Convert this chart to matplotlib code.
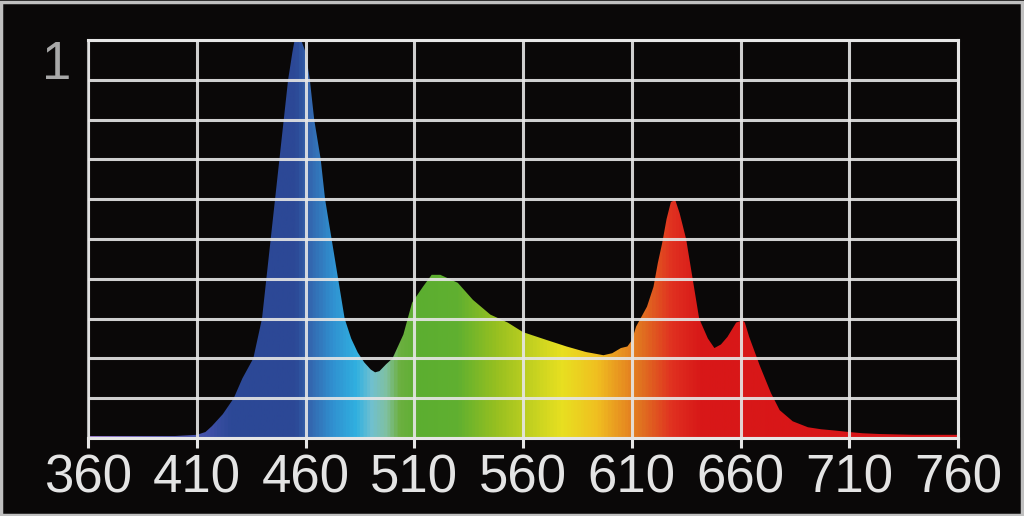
import matplotlib
matplotlib.use("Agg")
import matplotlib.pyplot as plt
import numpy as np
from matplotlib.colors import LinearSegmentedColormap
from matplotlib.patches import Rectangle

# spectrum (wavelength nm, relative intensity)
wavelength = [360, 380, 400, 410, 414, 417, 422, 427, 431, 436, 440, 442, 444, 446,
              448, 450, 452, 454, 455, 458, 460, 462, 464, 467, 469, 472, 475, 478,
              481, 484, 487, 490, 492, 494, 497, 500, 505, 509, 514, 518, 522, 526,
              530, 537, 545, 553, 560, 571, 580, 589, 597, 601, 605, 608, 610, 612,
              617, 620, 622, 624, 626, 628, 630, 632, 635, 638, 641, 645, 648, 651,
              654, 658, 661, 662, 664, 669, 674, 678, 684, 691, 697, 703, 710, 716,
              724, 740, 760]
intensity = [0.005, 0.005, 0.005, 0.008, 0.015, 0.03, 0.06, 0.10, 0.15, 0.20, 0.30, 0.40,
             0.50, 0.60, 0.70, 0.80, 0.90, 0.97, 1.0, 1.0, 0.97, 0.90, 0.80, 0.70, 0.60,
             0.50, 0.40, 0.30, 0.25, 0.215, 0.19, 0.172, 0.165, 0.168, 0.185, 0.20, 0.26,
             0.34, 0.38, 0.41, 0.41, 0.40, 0.39, 0.347, 0.31, 0.29, 0.266, 0.246, 0.23,
             0.216, 0.208, 0.213, 0.226, 0.23, 0.245, 0.28, 0.33, 0.38, 0.44, 0.49, 0.55,
             0.593, 0.598, 0.565, 0.50, 0.40, 0.30, 0.25, 0.226, 0.235, 0.254, 0.29, 0.296,
             0.29, 0.254, 0.18, 0.113, 0.07, 0.042, 0.027, 0.022, 0.019, 0.015, 0.012,
             0.01, 0.008, 0.008]

# colour of the fill along the wavelength axis
color_wl = [360, 415, 425, 455, 462, 472, 483, 490, 497, 503, 512, 530, 548, 563,
            578, 594, 606, 615, 629, 642, 760]
color_hex = ["#9a7cd0", "#4050a8", "#2c4896", "#2c4896", "#3468b0", "#3090d0", "#30b0e0",
             "#70c0d0", "#80c0a0", "#6cb040", "#5cae30", "#60b030", "#98c020", "#c0d020",
             "#e8e020", "#f0c020", "#e89020", "#e07020", "#e03020", "#d81818", "#d81418"]

xticks = [360, 410, 460, 510, 560, 610, 660, 710, 760]

bg = "#0a0808"
grid_c = "#e6e6e6"

fig = plt.figure(figsize=(10.24, 5.16), dpi=100, facecolor=bg)
ax = fig.add_axes([88 / 1024, 78 / 516, 870 / 1024, 398 / 516])
ax.set_facecolor(bg)

# gradient image clipped to the spectrum outline
cmap = LinearSegmentedColormap.from_list(
    "spec", [((w - 360) / 400, c) for w, c in zip(color_wl, color_hex)])
poly = ax.fill_between(wavelength, intensity, color="none", lw=0)
grad = np.linspace(360, 760, 1200).reshape(1, -1)
im = ax.imshow(grad, extent=[360, 760, 0, 1], aspect="auto", cmap=cmap,
               vmin=360, vmax=760, origin="lower", zorder=1)
im.set_clip_path(poly.get_paths()[0], transform=ax.transData)

ax.set_xlim(360, 760)
ax.set_ylim(0, 1)
ax.set_xticks(xticks)
ax.set_xticklabels([str(t) for t in xticks])
ax.set_yticks(np.arange(0, 1.01, 0.1))
ax.set_yticklabels([])
ax.set_axisbelow(False)
ax.grid(True, color=grid_c, lw=2.2, alpha=0.9, zorder=3)

ax.tick_params(axis="y", length=0)
ax.tick_params(axis="x", length=7, width=2.2, color=grid_c, pad=4,
               labelsize=38, labelcolor="#e4e4e4")
for lab in ax.get_xticklabels():
    lab.set_family("Liberation Sans")

for side in ["top", "right", "bottom"]:
    ax.spines[side].set_color(grid_c)
    ax.spines[side].set_linewidth(2.2)
ax.spines["left"].set_color("#b0b0b0")
ax.spines["left"].set_linewidth(2.2)

fig.text(57 / 1024, 1 - 65 / 516, "1", ha="center", va="center", fontsize=38,
         color="#a8a8a8", family="Liberation Sans")

# thin grey frame round the picture
fig.patches.append(Rectangle((0.001, 0.002), 0.997, 0.995, transform=fig.transFigure,
                             fill=False, edgecolor="#c0c0c0", lw=2.5))

fig.savefig("out.png", dpi=100, facecolor=bg)
